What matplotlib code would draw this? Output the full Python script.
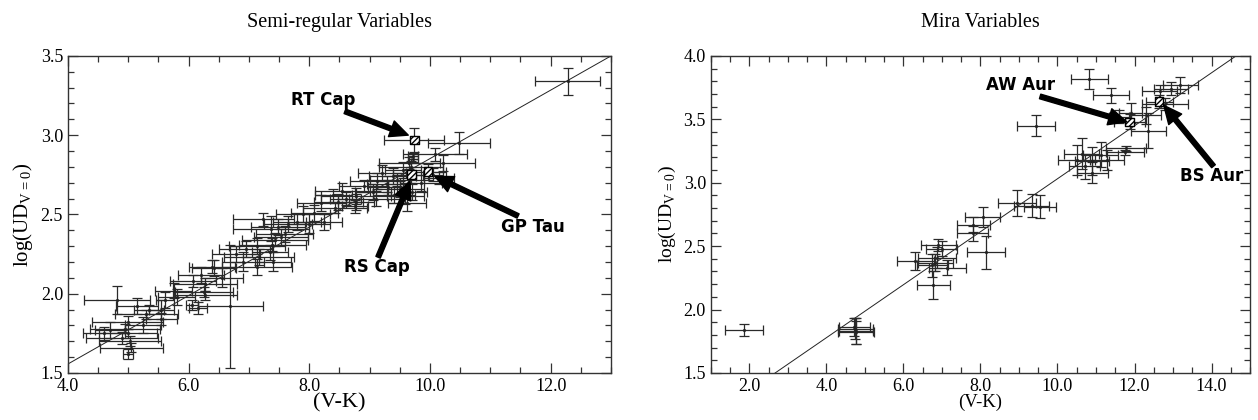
import numpy as np
import matplotlib.pyplot as plt
from matplotlib.ticker import MultipleLocator, FormatStrFormatter

# Semi-regular variables: (V-K), log(UD), errors
sr_x = [4.81, 5.30, 5.35, 4.99, 4.95, 4.99, 4.90, 5.03, 5.05, 5.00, 4.70, 5.25, 5.61, 5.55, 5.55, 5.80,
        6.27, 6.25, 6.27, 6.05, 6.15, 6.69, 6.42, 6.07, 6.20, 6.39, 6.78, 6.90, 7.13, 7.39, 7.43, 7.53,
        7.48, 7.24, 7.37, 7.59, 7.16, 7.14, 7.40, 7.35, 8.08, 8.48, 8.42, 8.78, 8.40, 8.60, 8.76, 8.78,
        9.30, 9.12, 9.38, 9.29, 9.68, 9.66, 9.55, 9.59, 9.62, 9.70, 9.72, 9.72, 10.09, 10.22, 10.15,
        10.05, 10.48, 9.40, 9.05, 12.28, 8.25, 8.00, 7.80,
        7.65, 7.90, 8.20, 8.55, 8.90, 9.10, 9.20, 9.45, 9.50, 9.85, 6.55, 6.95, 5.75, 5.15, 4.60]
sr_y = [1.96, 1.87, 1.90, 1.82, 1.78, 1.75, 1.72, 1.70, 1.66, 1.62, 1.77, 1.80, 1.96, 1.90, 1.84, 1.98,
        1.99, 2.01, 2.06, 1.93, 1.91, 1.92, 2.16, 2.08, 2.12, 2.17, 2.25, 2.20, 2.30, 2.31, 2.34, 2.36,
        2.42, 2.47, 2.41, 2.375, 2.23, 2.17, 2.20, 2.26, 2.51, 2.58, 2.54, 2.615, 2.62, 2.60, 2.55, 2.58,
        2.67, 2.71, 2.74, 2.69, 2.80, 2.825, 2.78, 2.615, 2.57, 2.64, 2.87, 2.85, 2.88, 2.825, 2.73,
        2.75, 2.95, 2.62, 2.64, 3.34, 2.45, 2.44, 2.45,
        2.44, 2.50, 2.57, 2.65, 2.68, 2.60, 2.76, 2.72, 2.66, 2.70, 2.10, 2.28, 2.02, 1.92, 1.75]
sr_xerr = [0.55, 0.52, 0.25, 0.59, 0.58, 0.48, 0.60, 0.52, 0.52, 0.08, 0.25, 0.30, 0.15, 0.20, 0.25, 0.30,
           0.53, 0.48, 0.53, 0.10, 0.15, 0.54, 0.37, 0.38, 0.38, 0.38, 0.40, 0.35, 0.46, 0.56, 0.55, 0.45,
           0.45, 0.50, 0.63, 0.47, 0.58, 0.58, 0.30, 0.30, 0.39, 0.41, 0.53, 0.58, 0.30, 0.26, 0.22, 0.30,
           0.32, 0.44, 0.39, 0.34, 0.53, 0.51, 0.30, 0.31, 0.31, 0.25, 0.08, 0.08, 0.53, 0.53, 0.25,
           0.17, 0.52, 0.35, 0.30, 0.54, 0.30, 0.35, 0.40,
           0.40, 0.45, 0.40, 0.45, 0.40, 0.45, 0.40, 0.45, 0.40, 0.35, 0.35, 0.45, 0.30, 0.35, 0.35]
sr_yerr = [0.09, 0.03, 0.03, 0.04, 0.03, 0.03, 0.04, 0.03, 0.03, 0.03, 0.05, 0.05, 0.05, 0.06, 0.04, 0.05,
           0.03, 0.03, 0.04, 0.03, 0.04, 0.39, 0.05, 0.04, 0.05, 0.04, 0.05, 0.06, 0.05, 0.04, 0.04, 0.05,
           0.05, 0.04, 0.08, 0.05, 0.05, 0.05, 0.06, 0.05, 0.05, 0.05, 0.03, 0.05, 0.04, 0.04, 0.04, 0.05,
           0.05, 0.05, 0.05, 0.05, 0.04, 0.04, 0.05, 0.05, 0.05, 0.05, 0.02, 0.02, 0.04, 0.05, 0.04,
           0.04, 0.07, 0.05, 0.05, 0.085, 0.05, 0.06, 0.05,
           0.05, 0.05, 0.05, 0.05, 0.04, 0.05, 0.05, 0.04, 0.05, 0.05, 0.06, 0.05, 0.05, 0.05, 0.04]
sr_names = ['RT Cap', 'RS Cap', 'GP Tau']
sr_name_x = [9.74, 9.69, 9.97]
sr_name_y = [2.97, 2.75, 2.77]
sr_name_xerr = [0.50, 0.30, 0.30]
sr_name_yerr = [0.075, 0.05, 0.05]
sr_fit = (0.693, 0.2159)  # intercept, slope

# Mira variables
mira_x = [1.87, 4.77, 4.75, 4.77, 4.73, 6.31, 6.83, 6.87, 6.75, 6.91, 7.00, 6.78, 7.14, 7.82, 7.80,
          8.06, 8.15, 8.95, 9.33, 9.55, 9.44, 10.83, 11.39, 10.50, 10.63, 10.90, 11.12, 11.29, 10.90,
          10.71, 11.78, 11.75, 12.36, 11.90, 12.30, 12.65, 12.80, 13.19, 12.95, 11.60]
mira_y = [1.84, 1.83, 1.85, 1.82, 1.86, 2.38, 2.37, 2.41, 2.35, 2.51, 2.48, 2.19, 2.33, 2.67, 2.60,
          2.73, 2.45, 2.84, 2.82, 2.81, 3.45, 3.82, 3.69, 3.18, 3.23, 3.17, 3.22, 3.18, 3.08,
          3.13, 3.27, 3.24, 3.41, 3.55, 3.53, 3.72, 3.62, 3.77, 3.74, 3.52]
mira_xerr = [0.49, 0.45, 0.45, 0.48, 0.40, 0.48, 0.45, 0.50, 0.40, 0.45, 0.40, 0.43, 0.48, 0.43, 0.40,
             0.45, 0.50, 0.50, 0.45, 0.41, 0.49, 0.49, 0.47, 0.48, 0.45, 0.45, 0.45, 0.45, 0.40,
             0.40, 0.52, 0.50, 0.45, 0.30, 0.40, 0.45, 0.60, 0.46, 0.45, 0.25]
mira_yerr = [0.045, 0.10, 0.08, 0.09, 0.07, 0.07, 0.07, 0.08, 0.09, 0.05, 0.06, 0.11, 0.06, 0.06, 0.06,
             0.08, 0.13, 0.10, 0.09, 0.09, 0.085, 0.08, 0.06, 0.12, 0.12, 0.11, 0.10, 0.08, 0.08,
             0.10, 0.02, 0.02, 0.14, 0.08, 0.07, 0.05, 0.05, 0.06, 0.05, 0.05]
mira_names = ['AW Aur', 'BS Aur']
mira_name_x = [11.87, 12.64]
mira_name_y = [3.48, 3.64]
mira_name_xerr = [0.40, 0.35]
mira_name_yerr = [0.06, 0.05]
mira_fit = (0.942, 0.2089)

SERIF = ['Liberation Serif', 'DejaVu Serif']
plt.rcParams['font.family'] = SERIF
plt.rcParams['mathtext.fontset'] = 'custom'
plt.rcParams['mathtext.rm'] = 'Liberation Serif'


def setup(ax, xlim, ylim, title, xlsize, ylsize):
    ax.set_xlim(*xlim)
    ax.set_ylim(*ylim)
    ax.xaxis.set_major_locator(MultipleLocator(2))
    ax.xaxis.set_minor_locator(MultipleLocator(0.5))
    ax.yaxis.set_major_locator(MultipleLocator(0.5))
    ax.yaxis.set_minor_locator(MultipleLocator(0.1))
    ax.xaxis.set_major_formatter(FormatStrFormatter('%.1f'))
    ax.yaxis.set_major_formatter(FormatStrFormatter('%.1f'))
    ax.tick_params(which='both', direction='in', top=True, right=True, colors='#333333',
                   labelcolor='black', labelsize=13, width=0.9)
    ax.tick_params(which='major', length=7)
    ax.tick_params(which='minor', length=4)
    for s in ax.spines.values():
        s.set_color('#333333')
        s.set_linewidth(1.0)
    ax.set_title(title, fontsize=14.5, pad=21)
    ax.set_xlabel('(V-K)', fontsize=xlsize, labelpad=-1)
    ax.set_ylabel(r'log(UD$_{\rm V{=}0}$)', fontsize=ylsize, labelpad=4)


def draw(ax, x, y, xe, ye, fit, nx, ny, nxe, nye):
    xx = np.array(ax.get_xlim())
    ax.plot(xx, fit[0] + fit[1] * xx, color='#222222', lw=0.7, zorder=1)
    ax.errorbar(x, y, xerr=xe, yerr=ye, fmt='.', ms=2.5, color='#222222', ecolor='#2a2a2a',
                elinewidth=0.9, capsize=3.5, capthick=0.9, zorder=2)
    ax.errorbar(nx, ny, xerr=nxe, yerr=nye, fmt='none', ecolor='#2a2a2a',
                elinewidth=0.9, capsize=3.5, capthick=0.9, zorder=2)
    ax.scatter(nx, ny, marker='s', s=38, facecolor='white', edgecolor='black',
               hatch='//////', linewidths=1.0, zorder=4)


fig = plt.figure(figsize=(12.58, 4.2), dpi=100)
ax1 = fig.add_axes([0.054, 0.112, 0.4317, 0.755])
ax2 = fig.add_axes([0.565, 0.112, 0.4287, 0.755])

setup(ax1, (4, 13), (1.5, 3.5), 'Semi-regular Variables', 16, 15)
setup(ax2, (1, 15), (1.5, 4.0), 'Mira Variables', 13.5, 14)

draw(ax1, sr_x, sr_y, sr_xerr, sr_yerr, sr_fit, sr_name_x, sr_name_y, sr_name_xerr, sr_name_yerr)
draw(ax2, mira_x, mira_y, mira_xerr, mira_yerr, mira_fit,
     mira_name_x, mira_name_y, mira_name_xerr, mira_name_yerr)

arrow = dict(facecolor='black', edgecolor='black', width=3.4, headwidth=12, headlength=13, shrink=0)
bold = dict(family='DejaVu Sans', fontweight='bold', fontsize=12, ha='center', va='center')

ax1.annotate('', xy=(9.64, 3.0), xytext=(8.59, 3.15), arrowprops=arrow, zorder=5)
ax1.text(8.23, 3.22, sr_names[0], **bold)
ax1.annotate('', xy=(9.67, 2.71), xytext=(9.14, 2.23), arrowprops=arrow, zorder=5)
ax1.text(9.12, 2.17, sr_names[1], **bold)
ax1.annotate('', xy=(10.08, 2.74), xytext=(11.46, 2.49), arrowprops=arrow, zorder=5)
ax1.text(11.7, 2.42, sr_names[2], **bold)

ax2.annotate('', xy=(11.8, 3.48), xytext=(9.55, 3.68), arrowprops=arrow, zorder=5)
ax2.text(9.03, 3.77, mira_names[0], **bold)
ax2.annotate('', xy=(12.76, 3.61), xytext=(14.05, 3.13), arrowprops=arrow, zorder=5)
ax2.text(14.0, 3.05, mira_names[1], **bold)

fig.savefig('out.png', dpi=100)
